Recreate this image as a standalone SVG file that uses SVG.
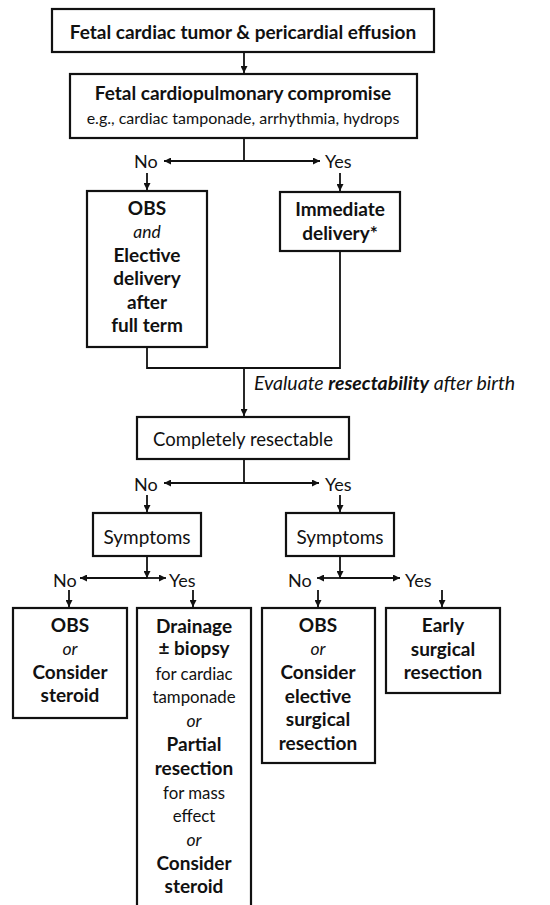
<svg xmlns="http://www.w3.org/2000/svg" width="550" height="905" viewBox="0 0 550 905">
<defs>
<marker id="ah" viewBox="0 0 8 8" refX="8" refY="4" markerWidth="7" markerHeight="7" markerUnits="userSpaceOnUse" orient="auto">
<path d="M0,0 L8,4 L0,8 z" fill="#111"/>
</marker>
</defs>
<style>
.box{fill:#fff;stroke:#111;stroke-width:2.2}
.c{fill:none;stroke:#111;stroke-width:1.8}
.a{marker-end:url(#ah)}
text{font-family:Lato,"Liberation Sans",sans-serif;fill:#111;text-anchor:middle}
.b{font-weight:bold;font-size:19px}
.r{font-size:16.8px}
.i{font-style:italic;font-size:17.5px}
.lb{font-size:18px;text-anchor:start}
</style>
<rect width="550" height="905" fill="#fff"/>
<g id="connectors">
<line class="c a" x1="244" y1="52" x2="244" y2="73"/>
<line class="c" x1="244" y1="138" x2="244" y2="161"/>
<line class="c a" x1="244" y1="161" x2="164" y2="161"/>
<line class="c a" x1="244" y1="161" x2="320" y2="161"/>
<line class="c a" x1="147" y1="173" x2="147" y2="190"/>
<line class="c a" x1="340" y1="173" x2="340" y2="191"/>
<path class="c" d="M147,347 V368 H340 V251"/>
<line class="c a" x1="244" y1="368" x2="244" y2="416"/>
<line class="c" x1="244" y1="459" x2="244" y2="483"/>
<line class="c a" x1="244" y1="483" x2="164" y2="483"/>
<line class="c a" x1="244" y1="483" x2="319" y2="483"/>
<line class="c a" x1="147" y1="495" x2="147" y2="512"/>
<line class="c a" x1="340" y1="495" x2="340" y2="512"/>
<line class="c a" x1="147" y1="556" x2="147" y2="578"/>
<line class="c a" x1="147" y1="578" x2="80" y2="578"/>
<line class="c a" x1="147" y1="578" x2="166" y2="578"/>
<line class="c a" x1="340" y1="556" x2="340" y2="578"/>
<line class="c a" x1="340" y1="578" x2="317" y2="578"/>
<line class="c a" x1="340" y1="578" x2="400" y2="578"/>
<line class="c a" x1="69" y1="590" x2="69" y2="607"/>
<line class="c a" x1="193" y1="590" x2="193" y2="607"/>
<line class="c a" x1="318" y1="590" x2="318" y2="607"/>
<line class="c a" x1="442" y1="590" x2="442" y2="607"/>
</g>
<g id="labels">
<text class="lb" x="134" y="168">No</text>
<text class="lb" x="325" y="168">Yes</text>
<text class="i" x="254" y="390" style="text-anchor:start;font-size:19.5px">Evaluate <tspan font-weight="bold">resectability</tspan> after birth</text>
<text class="lb" x="134" y="491">No</text>
<text class="lb" x="325" y="491">Yes</text>
<text class="lb" x="53" y="587">No</text>
<text class="lb" x="169" y="587">Yes</text>
<text class="lb" x="288" y="587">No</text>
<text class="lb" x="405" y="587">Yes</text>
</g>
<g id="n1">
<rect class="box" x="52" y="9" width="382" height="43"/>
<text class="b" x="243" y="39">Fetal cardiac tumor &amp; pericardial effusion</text>
</g>
<g id="n2">
<rect class="box" x="70" y="74" width="347" height="64"/>
<text class="b" x="243" y="100">Fetal cardiopulmonary compromise</text>
<text class="r" x="243" y="124" style="font-size:16px">e.g., cardiac tamponade, arrhythmia, hydrops</text>
</g>
<g id="n3">
<rect class="box" x="87" y="191" width="120" height="156"/>
<text class="b" x="147" y="215">OBS</text>
<text class="i" x="147" y="238">and</text>
<text class="b" x="147" y="262">Elective</text>
<text class="b" x="147" y="285">delivery</text>
<text class="b" x="147" y="309">after</text>
<text class="b" x="147" y="332">full term</text>
</g>
<g id="n4">
<rect class="box" x="280" y="192" width="120" height="59"/>
<text class="b" x="340" y="216">Immediate</text>
<text class="b" x="340" y="240">delivery*</text>
</g>
<g id="n5">
<rect class="box" x="137" y="417" width="212" height="42"/>
<text class="r" x="243" y="446" style="font-size:18.5px">Completely resectable</text>
</g>
<g id="n6">
<rect class="box" x="93" y="513" width="108" height="43"/>
<text class="r" x="147" y="544" style="font-size:19px">Symptoms</text>
</g>
<g id="n7">
<rect class="box" x="286" y="513" width="108" height="43"/>
<text class="r" x="340" y="544" style="font-size:19px">Symptoms</text>
</g>
<g id="n8">
<rect class="box" x="13" y="608" width="114" height="110"/>
<text class="b" x="70" y="632">OBS</text>
<text class="i" x="70" y="655">or</text>
<text class="b" x="70" y="679">Consider</text>
<text class="b" x="70" y="702">steroid</text>
</g>
<g id="n9">
<rect class="box" x="137" y="608" width="114" height="310"/>
<text class="b" x="194" y="633">Drainage</text>
<text class="b" x="194" y="655">± biopsy</text>
<text class="r" x="194" y="680">for cardiac</text>
<text class="r" x="194" y="703">tamponade</text>
<text class="i" x="194" y="727">or</text>
<text class="b" x="194" y="751">Partial</text>
<text class="b" x="194" y="775">resection</text>
<text class="r" x="194" y="799">for mass</text>
<text class="r" x="194" y="822">effect</text>
<text class="i" x="194" y="846">or</text>
<text class="b" x="194" y="870">Consider</text>
<text class="b" x="194" y="893">steroid</text>
</g>
<g id="n10">
<rect class="box" x="262" y="608" width="113" height="155"/>
<text class="b" x="318" y="632">OBS</text>
<text class="i" x="318" y="655">or</text>
<text class="b" x="318" y="679">Consider</text>
<text class="b" x="318" y="703">elective</text>
<text class="b" x="318" y="726">surgical</text>
<text class="b" x="318" y="750">resection</text>
</g>
<g id="n11">
<rect class="box" x="386" y="608" width="114" height="85"/>
<text class="b" x="443" y="632">Early</text>
<text class="b" x="443" y="656">surgical</text>
<text class="b" x="443" y="679">resection</text>
</g>
</svg>
